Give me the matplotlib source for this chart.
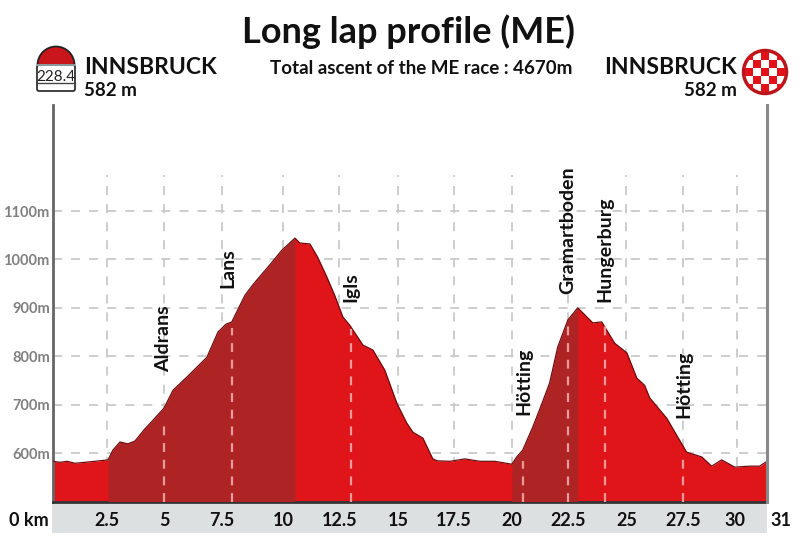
import matplotlib
matplotlib.use('Agg')
import matplotlib.pyplot as plt
from matplotlib.patches import Circle, Rectangle, Wedge, FancyBboxPatch

FONT = ['Lato', 'DejaVu Sans']
plt.rcParams['font.family'] = FONT

# profile
km = [0, 0.33, 0.63, 0.98, 1.41, 1.84, 2.41, 2.62, 2.93, 3.27, 3.58, 4.01, 4.44, 4.84,
      5.23, 5.83, 6.70, 7.18, 7.52, 7.78, 8.35, 8.7, 9.0, 9.45, 9.95, 10.52,
      10.73, 11.17, 11.5, 11.9, 12.25, 12.6, 12.9, 13.47, 13.9, 14.42, 14.94, 15.37,
      15.64, 16.07, 16.5, 16.7, 17.24, 17.89, 18.54, 19.19, 19.93, 20.14, 20.4, 20.84, 21.2,
      21.57, 21.92, 22.36, 22.79, 23.44, 23.83, 24.39, 24.92, 25.35, 25.69, 25.91, 26.65,
      27.51, 28.17, 28.6, 29.03, 29.6, 30.25, 30.68, 31]
elev = [583, 581, 583, 579, 581, 583, 586, 606, 623, 619, 625, 650, 672, 693,
        730, 757, 798, 850, 866, 871, 926, 948, 965, 990, 1019, 1044,
        1034, 1032, 1005, 964, 925, 881, 864, 823, 813, 771, 703, 662,
        643, 631, 588, 584, 583, 588, 583, 583, 577, 592, 606, 654, 698,
        745, 819, 875, 900, 869, 871, 827, 807, 755, 740, 714, 672,
        602, 592, 573, 586, 571, 573, 573, 583]

tick_km = [2.38, 4.84, 7.35, 10, 12.45, 15, 17.4, 19.93, 22.36, 24.9, 27.35, 29.7]
tick_labels = ['2.5', '5', '7.5', '10', '12.5', '15', '17.5', '20', '22.5', '25', '27.5', '30']
label_km = [2.38, 4.84, 7.35, 10, 12.45, 15, 17.4, 19.93, 22.36, 24.9, 27.35, 29.6]
elev_ticks = [600, 700, 800, 900, 1000, 1100]

climbs = [(2.41, 10.52), (19.93, 22.79)]
places = ['Aldrans', 'Lans', 'Igls', 'Hötting', 'Gramartboden', 'Hungerburg', 'Hötting']
place_km = [4.84, 7.78, 12.95, 20.4, 22.36, 23.96, 27.35]
label_offset_km = [-0.03, -0.15, 0, 0.05, 0, 0.02, 0.03]
place_label_elev = [767, 941, 912, 678, 928, 913, 672]

RED = '#DF151A'
DARK = '#AE2424'
W, H = 811, 538

fig = plt.figure(figsize=(W / 100, H / 100), dpi=100)
ax = fig.add_axes([52.5 / W, 1 - 501.5 / H, 714.5 / W, 396.5 / H])
ax.set_xlim(0, 31)
ax.set_ylim(500, 1319)

# grid behind the profile
for y in elev_ticks:
    ax.plot([0, 31], [y, y], color='#C8CACA', lw=1.3, dashes=(5, 5), zorder=1)
for x in tick_km:
    ax.plot([x, x], [500, 1175], color='#C8CACA', lw=1.3, dashes=(5, 5), zorder=1)

ax.fill_between(km, 500, elev, color=RED, lw=0, zorder=2)
for start, end in climbs:
    ax.fill_between(km, 500, elev, where=[start <= k <= end for k in km],
                    color=DARK, lw=0, zorder=3)
ax.plot(km, elev, color='#6E0C0F', lw=0.9, zorder=4)

# place markers inside the profile and their names
for name, x, off, y in zip(places, place_km, label_offset_km, place_label_elev):
    top = min(e for k, e in zip(km, elev) if abs(k - x) < 0.4)
    ax.plot([x, x], [500, top - 8], color='#EB9A9A', lw=1.6, dashes=(4, 3.5), zorder=5)
    ax.text(x + off, y, name, rotation=90, ha='center', va='bottom', fontsize=14,
            fontweight='bold', color='#111111', zorder=6)

for side in ['top', 'right']:
    ax.spines[side].set_visible(False)
ax.spines['left'].set_color('#666666')
ax.spines['left'].set_linewidth(2)
ax.spines['bottom'].set_color('#333333')
ax.spines['bottom'].set_linewidth(2)
ax.plot([31, 31], [500, 1319], color='#888888', lw=2.2, clip_on=False, zorder=5)

ax.set_yticks(elev_ticks)
ax.set_yticklabels([f'{v}m' for v in elev_ticks], color='#808080', fontsize=10.5, fontweight='bold')
ax.tick_params(axis='y', length=0, pad=2)
ax.set_xticks([])

# everything outside the axes is placed in picture pixels
over = fig.add_axes([0, 0, 1, 1], zorder=10)
over.set_xlim(0, W)
over.set_ylim(H, 0)
over.axis('off')

over.add_patch(Rectangle((52, 504), 715, 29, color='#DDE0E0', lw=0))
for x, lab in zip(label_km, tick_labels):
    over.text(52.5 + x * 23.05, 521, lab, ha='center', va='center', fontsize=13, fontweight='bold', color='#111111')
over.text(29, 521, '0 km', ha='center', va='center', fontsize=13, fontweight='bold', color='#111111')
over.text(781, 521, '31', ha='center', va='center', fontsize=13, fontweight='bold', color='#111111')

over.text(409, 32, 'Long lap profile (ME)', ha='center', va='center', fontsize=26, fontweight='bold', color='#111111')
over.text(421, 68, 'Total ascent of the ME race : 4670m', ha='center', va='center', fontsize=13.5, fontweight='bold', color='#111111')

over.text(84, 67, 'INNSBRUCK', ha='left', va='center', fontsize=16.5, fontweight='bold', color='#111111')
over.text(84, 90, '582 m', ha='left', va='center', fontsize=13.5, fontweight='bold', color='#111111')
over.text(737, 67, 'INNSBRUCK', ha='right', va='center', fontsize=16.5, fontweight='bold', color='#111111')
over.text(737, 90, '582 m', ha='right', va='center', fontsize=13.5, fontweight='bold', color='#111111')

# start badge
over.add_patch(FancyBboxPatch((37, 65), 38, 26, boxstyle='round,pad=0,rounding_size=2',
                              fc='white', ec='#333333', lw=1.3))
over.add_patch(Wedge((56, 65), 18.5, 180, 360, fc='#C8161C', ec='#222222', lw=1.3))
over.plot([37, 75], [65, 65], color='#9DB0B0', lw=1.2)
over.plot([37, 75], [83, 83], color='#444444', lw=1)
over.text(56, 77, '228.4', ha='center', va='center', fontsize=11, color='#222222')

# finish badge
circle = Circle((765, 72), 21.5, fc='white', ec='#B8161A', lw=2.5)
over.add_patch(circle)
for row in range(-3, 3):
    for col in range(-3, 3):
        if (row + col) % 2 == 0:
            cell = Rectangle((765 - 4 + col * 8, 72 - 4 + row * 8), 8, 8, fc='#E2121A', lw=0)
            over.add_patch(cell)
            cell.set_clip_path(circle)

fig.savefig('out.png', dpi=100)
